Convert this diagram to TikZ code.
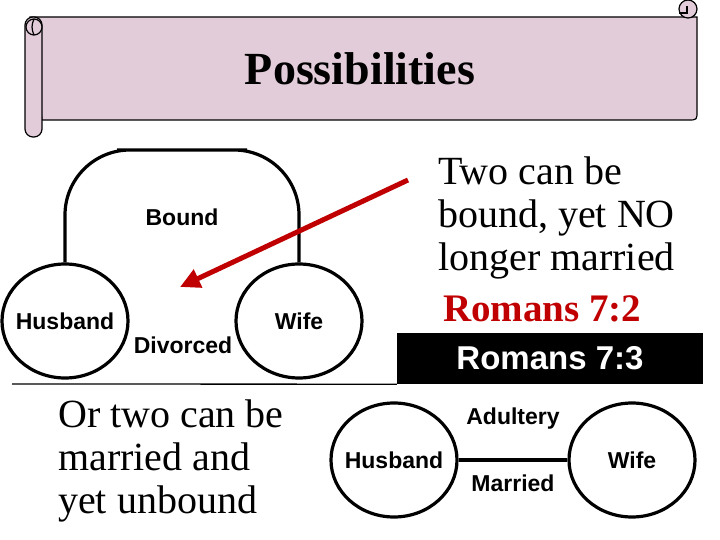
\documentclass[tikz,border=0pt]{standalone}
\usepackage{fontspec}
\setmainfont{Liberation Serif}
\setsansfont{Liberation Sans}
\usepackage{tikz}
\usetikzlibrary{arrows.meta,shapes.geometric}
\definecolor{scrollpink}{RGB}{227,204,217}
\definecolor{versered}{RGB}{192,0,0}

\begin{document}
\begin{tikzpicture}[x=1pt,y=-1pt]
		\useasboundingbox (0,0) rectangle (720,540);

		\begin{scope}[line width=1.2pt,fill=scrollpink]
		    \filldraw (30,17) -- (697,17) -- (697,111) .. controls (697,120) .. (688,120) -- (42,120) -- cycle;
		    \filldraw[rounded corners=8pt] (25,137) rectangle (42,17);
		    \filldraw (34,27) circle[radius=8pt];
		    \draw (34,19) to[bend right=25] (34,35);
		    \filldraw (688,9) circle[radius=9pt];
		    \draw (679,13) -- (687,13) -- (687,6);
		\end{scope}
		\node[font=\bfseries\fontsize{46}{50}\selectfont,inner sep=0pt,anchor=base] (title) at (360,85) {Possibilities};

		\begin{scope}[person/.style={ellipse,draw,line width=3.2pt,minimum width=126pt,minimum height=114pt,inner sep=0pt},
		              who/.style={font=\sffamily\bfseries\fontsize{23}{26}\selectfont,inner sep=0pt}]
		    \node[person,label={[who]center:Husband}] (h1) at (65,321) {};
		    \node[person,label={[who]center:Wife}] (w1) at (299,321) {};
		    \node[person,label={[who]center:Husband}] (h2) at (394,460) {};
		    \node[person,label={[who]center:Wife}] (w2) at (632,460) {};
		    \coordinate (top1) at (182,150);
		    \draw[line width=3.2pt,rounded corners=65pt] (h1.north) |- (top1) -| (w1.north);
		    \node[who] (bound) at (182,217) {Bound};
		    \node[who] (divorced) at (183,345) {Divorced};
		    \draw[line width=3.2pt] (h2) -- node[who,yshift=41pt] {Adultery} node[who,yshift=-23pt] {Married} (w2);
		\end{scope}

		\begin{scope}[every node/.style={inner sep=0pt,align=left,font=\fontsize{40}{43}\selectfont}]
		    \node[anchor=north west] (twobound) at (438,157) {Two can be\\bound, yet NO\\longer married};
		    \node[anchor=north west] (twomarried) at (58,400) {Or two can be\\married and\\yet unbound};
		    \node[anchor=base west,text=versered,font=\bfseries\fontsize{39}{43}\selectfont] (rom72) at (443,321) {Romans 7:2};
		    \node[fill=black,text=white,minimum width=306pt,minimum height=51pt,font=\sffamily\bfseries\fontsize{33}{36}\selectfont] (rom73) at (550,358.5) {Romans 7:3};
		\end{scope}

		\coordinate (ruleleft) at (12,384);
		\draw[line width=1.3pt] (ruleleft) -- (rom73.south west);

		\coordinate (arrstart) at (408,180);
		\coordinate (arrtip) at (180,287);
		\draw[versered,line width=5pt,-{Triangle[length=20pt,width=19pt]}] (arrstart) -- (arrtip);
\end{tikzpicture}
\end{document}
